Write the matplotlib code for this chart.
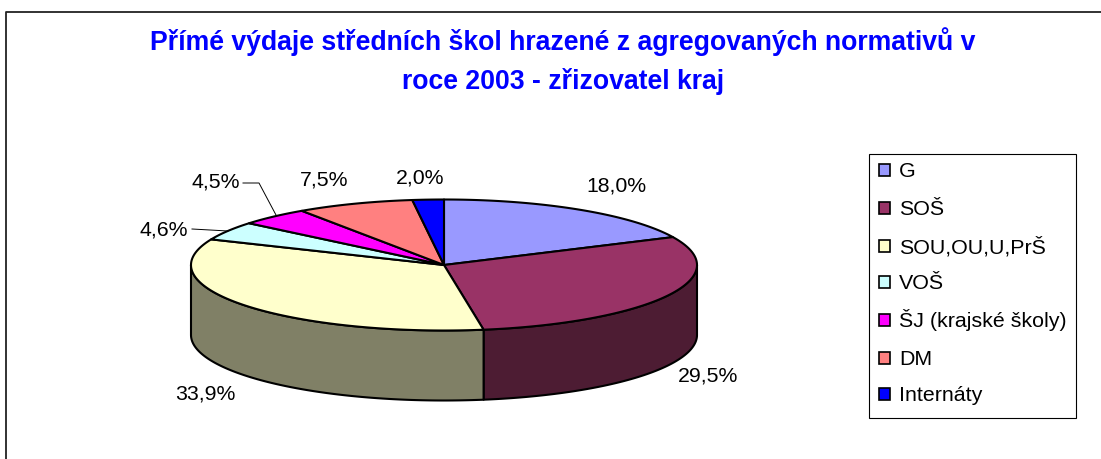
#!/usr/bin/env python3
"""Pie chart s falesnym 3D - prime vydaje strednich skol 2003."""
import numpy as np
import matplotlib
matplotlib.use("Agg")
import matplotlib.pyplot as plt
from matplotlib.patches import Polygon, Rectangle

categories = ["G", "SOŠ", "SOU,OU,U,PrŠ", "VOŠ", "ŠJ (krajské školy)", "DM", "Internáty"]
values = [18.0, 29.5, 33.9, 4.6, 4.5, 7.5, 2.0]
title_lines = ["Přímé výdaje středních škol hrazené z agregovaných normativů v",
               "roce 2003 - zřizovatel kraj"]

colors = ["#9999FF", "#993366", "#FFFFCC", "#CCFFFF", "#FF00FF", "#FF8080", "#0000FF"]
wall_colors = ["#4D4D80", "#4D1C33", "#808066", "#668080", "#800080", "#804040", "#000080"]

# geometrie v pixelech obrazku
CX, CY, RX, RY, DEPTH = 444, 265, 253, 65.5, 70
label_pos = [(616, 192), (708, 382), (205, 399), (164, 235), (216, 188), (324, 186), (420, 183)]
legend_y = [170, 208, 246, 282, 320, 358, 394]
title_y = [50, 89]

plt.rcParams["font.family"] = ["Liberation Sans", "DejaVu Sans"]
fig = plt.figure(figsize=(11.01, 4.59), dpi=100)
ax = fig.add_axes([0, 0, 1, 1])
ax.set_xlim(0, 1101)
ax.set_ylim(459, 0)
ax.axis("off")


def rim(a0, a1, dy=0):
    """Body okraje elipsy, uhel ve stupnich od vrcholu po smeru hodin."""
    a = np.radians(np.linspace(a0, a1, max(int(abs(a1 - a0)) * 2, 2)))
    return np.column_stack([CX + RX * np.sin(a), CY + dy - RY * np.cos(a)])


# ramecek grafu - jen levy a horni okraj
ax.plot([5.5, 5.5, 1101], [459, 11.5, 11.5], color="#222222", lw=1.3, zorder=1)

edges = np.cumsum([0] + values) / sum(values) * 360

# bocni stena - jen predni pulka (90 az 270 stupnu)
for i in range(len(values)):
    a0, a1 = max(edges[i], 90), min(edges[i + 1], 270)
    if a0 >= a1:
        continue
    pts = np.vstack([rim(a0, a1), rim(a1, a0, DEPTH)])
    ax.add_patch(Polygon(pts, closed=True, fc=wall_colors[i], ec="black", lw=1.5,
                         joinstyle="round", zorder=2))

# horni plocha
for i in range(len(values)):
    pts = np.vstack([[CX, CY], rim(edges[i], edges[i + 1])])
    ax.add_patch(Polygon(pts, closed=True, fc=colors[i], ec="black", lw=1.5,
                         joinstyle="round", zorder=3))

# popisky
for v, (x, y) in zip(values, label_pos):
    ax.text(x, y, f"{v:.1f}".replace(".", ",") + "%", ha="center", va="baseline",
            fontsize=15.3, color="black", zorder=5)

# odkazove cary
ax.plot([243, 259, 276], [183, 183, 215], color="black", lw=0.7, zorder=4)
ax.plot([192, 228], [229, 231], color="black", lw=0.7, zorder=4)

# legenda
ax.add_patch(Rectangle((869, 153.5), 207, 264, fc="white", ec="black", lw=0.8, zorder=2))
for name, c, y in zip(categories, colors, legend_y):
    ax.add_patch(Rectangle((878.5, y - 6), 11, 12, fc=c, ec="black", lw=1.2, zorder=3))
    ax.text(899, y + 7, name, ha="left", va="baseline", fontsize=15.4, color="black", zorder=3)

for line, y in zip(title_lines, title_y):
    ax.text(563, y, line, ha="center", va="baseline", fontsize=19.2, fontweight="bold",
            color="#0000FF", zorder=3)

fig.savefig("out.png", dpi=100)
